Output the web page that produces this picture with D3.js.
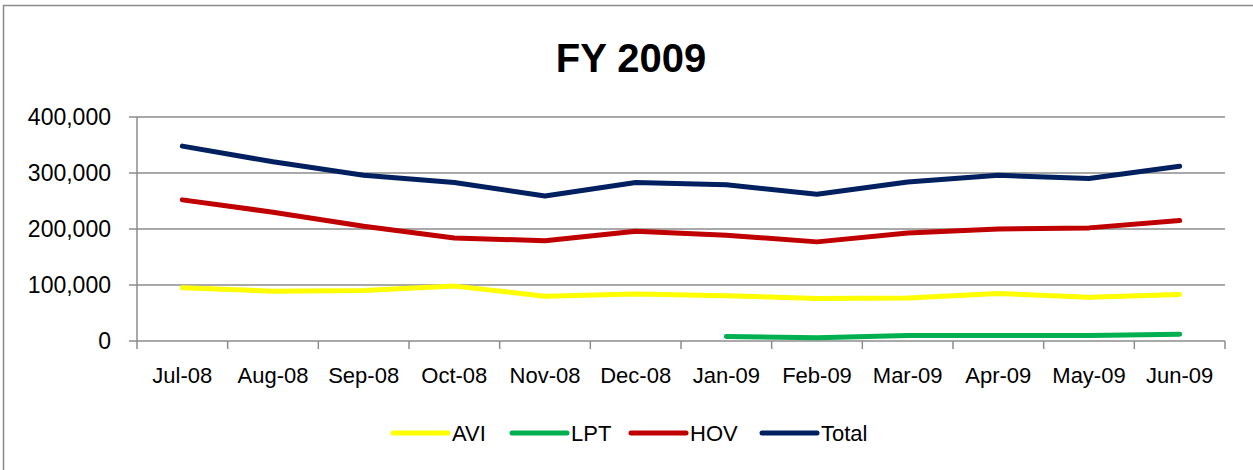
<!DOCTYPE html>
<html>
<head>
<meta charset="utf-8">
<script src="https://cdn.jsdelivr.net/npm/d3@7"></script>
<style>
  body { margin: 0; background: #fff; }
  text { font-family: "Liberation Sans", Arial, sans-serif; fill: #000; }
</style>
</head>
<body>
<script>
// data
var months = ["Jul-08","Aug-08","Sep-08","Oct-08","Nov-08","Dec-08","Jan-09","Feb-09","Mar-09","Apr-09","May-09","Jun-09"];
var avi   = [95000, 89000, 90000, 98000, 80000, 84000, 81000, 76000, 77000, 85000, 78000, 83000];
var lpt   = [null, null, null, null, null, null, 8000, 6000, 10000, 10000, 10000, 12000];
var hov   = [252000, 230000, 205000, 184000, 179000, 196000, 189000, 177000, 193000, 200000, 202000, 215000];
var total = [348000, 320000, 296000, 283000, 259000, 283000, 279000, 262000, 284000, 296000, 290000, 312000];
var yTicks = [0, 100000, 200000, 300000, 400000];

var seriesNames  = ["AVI", "LPT", "HOV", "Total"];
var seriesValues = [avi, lpt, hov, total];
var seriesColors = ["#ffff00", "#00b050", "#c00000", "#002060"];

var W = 1253, H = 470;
var margin = {top: 117, right: 28, bottom: 129, left: 137};
var width = W - margin.left - margin.right;
var height = H - margin.top - margin.bottom;

var svg = d3.select("body").append("svg")
    .attr("width", W)
    .attr("height", H);

// chart frame (right and bottom edges run off the picture)
svg.append("rect")
    .attr("x", 3.5).attr("y", 5.5)
    .attr("width", 1300).attr("height", 500)
    .attr("fill", "none")
    .attr("stroke", "#8a8a8a")
    .attr("stroke-width", 1.5);

svg.append("text")
    .attr("x", 631).attr("y", 72)
    .attr("text-anchor", "middle")
    .attr("font-size", "40px")
    .attr("font-weight", "bold")
    .text("FY 2009");

var g = svg.append("g")
    .attr("transform", "translate(" + margin.left + "," + margin.top + ")");

var x = d3.scaleBand().domain(months).range([0, width]);
var y = d3.scaleLinear().domain([0, 400000]).range([height, 0]);

// gridlines
g.selectAll(".grid").data(yTicks).enter().append("line")
    .attr("class", "grid")
    .attr("x1", -8).attr("x2", width)
    .attr("y1", function(d){ return y(d); })
    .attr("y2", function(d){ return y(d); })
    .attr("stroke", "#8c8c8c")
    .attr("stroke-width", 1.5);

// y axis
g.append("line")
    .attr("x1", 0).attr("x2", 0)
    .attr("y1", 0).attr("y2", height + 8)
    .attr("stroke", "#8c8c8c").attr("stroke-width", 1.5);

var fmt = d3.format(",");
g.selectAll(".ylab").data(yTicks).enter().append("text")
    .attr("class", "ylab")
    .attr("x", -26)
    .attr("y", function(d){ return y(d); })
    .attr("dy", "0.35em")
    .attr("text-anchor", "end")
    .attr("font-size", "23px")
    .text(function(d){ return fmt(d); });

// category ticks between bands
var bounds = months.map(function(m){ return x(m) + x.bandwidth(); });
g.selectAll(".xtick").data(bounds).enter().append("line")
    .attr("class", "xtick")
    .attr("x1", function(d){ return d; }).attr("x2", function(d){ return d; })
    .attr("y1", height).attr("y2", height + 8)
    .attr("stroke", "#8c8c8c").attr("stroke-width", 1.5);

g.selectAll(".xlab").data(months).enter().append("text")
    .attr("class", "xlab")
    .attr("x", function(d){ return x(d) + x.bandwidth() / 2; })
    .attr("y", height + 42)
    .attr("text-anchor", "middle")
    .attr("font-size", "22px")
    .text(function(d){ return d; });

// series lines
var line = d3.line()
    .defined(function(d){ return d != null; })
    .x(function(d, i){ return x(months[i]) + x.bandwidth() / 2; })
    .y(function(d){ return y(d); });

seriesValues.forEach(function(vals, k){
    g.append("path")
        .attr("d", line(vals))
        .attr("fill", "none")
        .attr("stroke", seriesColors[k])
        .attr("stroke-width", 5)
        .attr("stroke-linecap", "round")
        .attr("stroke-linejoin", "round");
});

// legend
var legendX = [393, 512, 631, 762];
var legend = svg.append("g");
seriesNames.forEach(function(name, k){
    legend.append("line")
        .attr("x1", legendX[k]).attr("x2", legendX[k] + 55)
        .attr("y1", 433).attr("y2", 433)
        .attr("stroke", seriesColors[k])
        .attr("stroke-width", 5)
        .attr("stroke-linecap", "round");
    legend.append("text")
        .attr("x", legendX[k] + 59)
        .attr("y", 433)
        .attr("dy", "0.36em")
        .attr("font-size", "22px")
        .text(name);
});
</script>
</body>
</html>
